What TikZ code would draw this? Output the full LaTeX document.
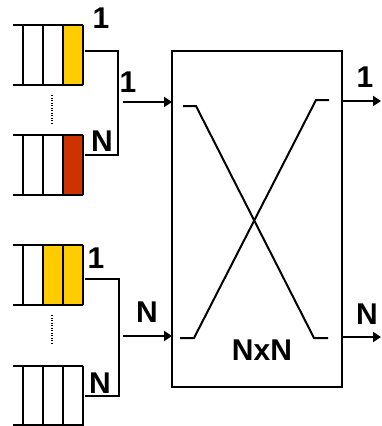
\documentclass[tikz,border=0pt]{standalone}
\usepackage{fontspec}
\setmainfont{Liberation Sans}
\usetikzlibrary{arrows.meta}
\definecolor{qyellow}{HTML}{FFCC00}
\definecolor{qred}{HTML}{CC3300}
\begin{document}
\begin{tikzpicture}[x=1pt,y=-1pt,line width=2pt,
    lbl/.style={font=\fontsize{30}{30}\selectfont\bfseries,inner sep=0pt},
    arr/.style={-{Triangle[length=8pt,width=10pt]}},
    dots/.style={line width=1.2pt,dash pattern=on 1pt off 1.5pt}]
  \useasboundingbox (0,0) rectangle (381,426);
  % switch
  \coordinate (SWtl) at (172,51);
  \coordinate (SWbr) at (342,387);
  \draw (SWtl) rectangle (SWbr);
  \node[lbl] (NxN) at (262,350) {NxN};
  \draw (183,106) -- (196,106) -- (314,338) -- (328,338);
  \draw (180,338) -- (194,338) -- (316,100) -- (329,100);
  %
  % first group of queues
  \begin{scope}[shift={(0,25)}]
    \fill[qyellow] (63,0) rectangle (83,60);
    \draw (13,0) -- (83,0) (13,60) -- (83,60);
    \draw (23,0) -- (23,60) (43,0) -- (43,60) (63,0) -- (63,60) (83,0) -- (83,60);
  \end{scope}
  \draw[dots] (52,95) -- (52,123);
  \begin{scope}[shift={(0,135)}]
    \fill[qred] (63,0) rectangle (83,60);
    \draw (13,0) -- (83,0) (13,60) -- (83,60);
    \draw (23,0) -- (23,60) (43,0) -- (43,60) (63,0) -- (63,60) (83,0) -- (83,60);
  \end{scope}
  \node[lbl] (q1lbl) at (101,18) {1};
  \node[lbl] (q2lbl) at (102,141) {N};
  \coordinate (q1) at (85,51);
  \coordinate (q2) at (85,155);
  \draw (q1) -- ++(33,0) |- (q2);
  \coordinate (in1) at (123,102);
  \draw[arr] (in1) -- (SWtl |- in1);
  \node[lbl] (in1lbl) at (128,82) {1};
  %
  % second group of queues
  \begin{scope}[shift={(0,245)}]
    \fill[qyellow] (43,0) rectangle (83,60);
    \draw (13,0) -- (83,0) (13,60) -- (83,60);
    \draw (23,0) -- (23,60) (43,0) -- (43,60) (63,0) -- (63,60) (83,0) -- (83,60);
  \end{scope}
  \draw[dots] (52,315) -- (52,344);
  \begin{scope}[shift={(0,366)}]
    \draw (13,0) -- (83,0) (13,59) -- (83,59);
    \draw (23,0) -- (23,60) (43,0) -- (43,60) (63,0) -- (63,60) (83,0) -- (83,60);
  \end{scope}
  \node[lbl] (q3lbl) at (96,258) {1};
  \node[lbl] (q4lbl) at (100,383) {N};
  \coordinate (q3) at (85,279);
  \coordinate (q4) at (85,396);
  \draw (q3) -- ++(34,0) |- (q4);
  \coordinate (inN) at (123,336);
  \draw[arr] (inN) -- (SWtl |- inN);
  \node[lbl] (inNlbl) at (147,312) {N};
  %
  % outputs
  \coordinate (out1) at (381,101);
  \coordinate (outN) at (381,337);
  \draw[arr] (SWbr |- out1) -- (out1);
  \draw[arr] (SWbr |- outN) -- (outN);
  \node[lbl] (out1lbl) at (365,77) {1};
  \node[lbl] (outNlbl) at (367,314) {N};
\end{tikzpicture}
\end{document}
